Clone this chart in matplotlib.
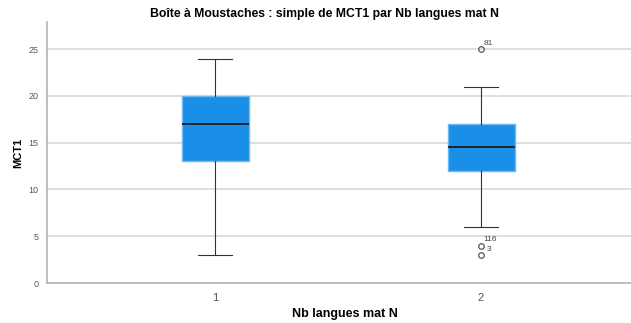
import matplotlib.pyplot as plt

plt.rcParams['font.family'] = ['Liberation Sans', 'DejaVu Sans']

# données
groupes = ['1', '2']
q1 = [13, 12]
medianes = [17, 14.5]
q3 = [20, 17]
moust_bas = [3, 6]
moust_haut = [24, 21]
atypiques = [[], [25, 4, 3]]
etiquettes_atyp = [[], ['81', '116', '3']]

stats = []
for i in range(len(groupes)):
    stats.append({'med': medianes[i], 'q1': q1[i], 'q3': q3[i],
                  'whislo': moust_bas[i], 'whishi': moust_haut[i],
                  'fliers': atypiques[i], 'label': groupes[i]})

fig = plt.figure(figsize=(6.31, 3.23), dpi=100)
ax = fig.add_axes([0.0745, 0.1238, 0.9255, 0.808])

pos = [1, 2]
ax.bxp(stats, positions=pos, widths=0.252, patch_artist=True,
       boxprops=dict(facecolor='#1a8fe8', edgecolor='#6cb8f0', linewidth=1),
       medianprops=dict(color='#1a1a1a', linewidth=1.3),
       whiskerprops=dict(color='#333333', linewidth=0.8),
       capprops=dict(color='#333333', linewidth=0.8),
       capwidths=0.128,
       flierprops=dict(marker='o', markerfacecolor='none', markeredgecolor='#555555',
                       markersize=4, markeredgewidth=0.9),
       zorder=3)

# étiquettes des valeurs atypiques
for i in range(len(groupes)):
    for v, lab in zip(atypiques[i], etiquettes_atyp[i]):
        dx = 4 if lab == '3' else 2
        ax.annotate(lab, (pos[i], v), xytext=(dx, 3), textcoords='offset points',
                    fontsize=6, color='#444444')

ax.set_xlim(0.368, 2.564)
ax.set_ylim(0, 27.9)
ax.set_yticks([0, 5, 10, 15, 20, 25])
ax.set_xticks(pos)
ax.set_xticklabels(groupes)
ax.tick_params(axis='y', length=0, labelsize=6.5, labelcolor='#555555', pad=6)
ax.tick_params(axis='x', length=0, labelsize=8, labelcolor='#555555', pad=7)
ax.yaxis.grid(True, color='#d9d9d9', linewidth=1.2)
ax.set_axisbelow(True)
for s in ['top', 'right']:
    ax.spines[s].set_visible(False)
for s in ['left', 'bottom']:
    ax.spines[s].set_color('#b4b4b4')
    ax.spines[s].set_linewidth(1.2)

ax.set_ylabel('MCT1', fontsize=8, fontweight='bold', labelpad=4)
ax.set_xlabel('Nb langues mat N', fontsize=9, fontweight='bold')
ax.xaxis.set_label_coords(0.510, -0.095)
fig.text(0.514, 0.957, 'Boîte à Moustaches : simple de MCT1 par Nb langues mat N',
         ha='center', va='center', fontsize=8.8, fontweight='bold')

fig.savefig('out.png', dpi=100)
